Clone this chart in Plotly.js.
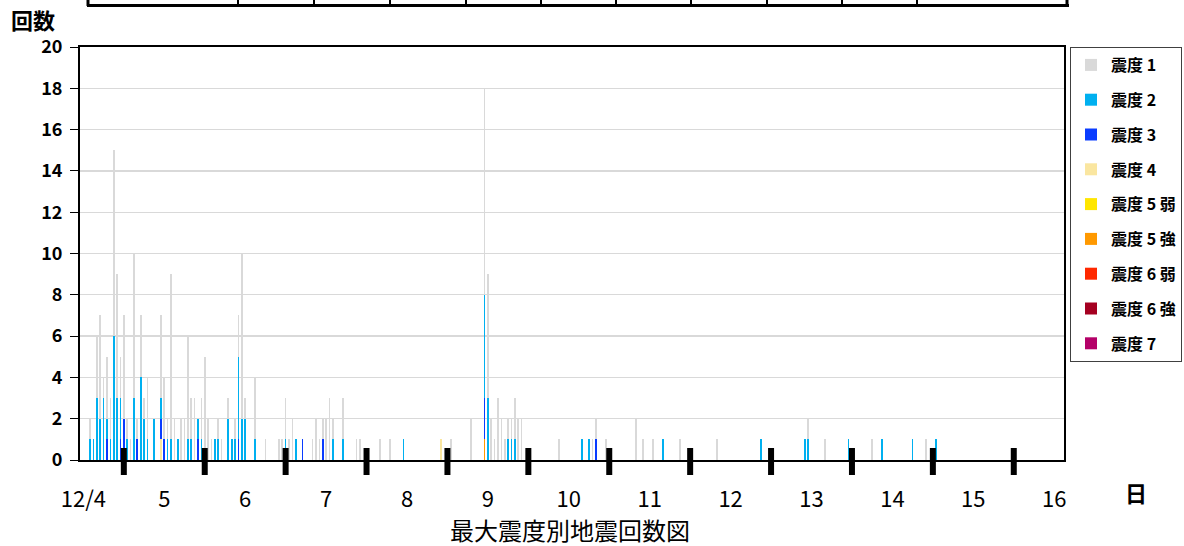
<!DOCTYPE html>
<html>
<head>
<meta charset="utf-8">
<script src="https://cdn.plot.ly/plotly-3.0.1.min.js"></script>
<style>
  html, body { margin: 0; padding: 0; background: #fff; }
  #chart { width: 1184px; height: 546px; }
</style>
</head>
<body>
<div id="chart"></div>
<script>
// Hourly earthquake counts by maximum intensity (hours counted from 2021-12-04 00:00)
const seriesNames = ['震度 1', '震度 2', '震度 3', '震度 4', '震度 5 弱', '震度 5 強', '震度 6 弱', '震度 6 強', '震度 7'];
const seriesColors = ['#d9d9d9', '#00b0f0', '#0a3cff', '#fae6a0', '#ffe600', '#ff9900', '#ff2800', '#a50021', '#b40068'];

const shindo1Hours  = [14,16,17,18,19,20,21,22,23,24,25,26,27,28,29,30,31,35,36,37,38,39,41,42,43,44,45,47,48,49,50,52,53,55,57,58,59,60,63,66,70,71,72,73,74,80,81,82,83,84,85,86,89,93,94,100,103,121,127,131,132,133,134,135,136,137,138,139,140,141,142,153,163,164,167,176,178,181,189,200,227,232,246,262];
const shindo1Counts = [1,3,5,1,3,2,9,6,2,5,1,1,7,1,3,1,3,4,3,1,8,2,2,2,5,2,3,2,5,2,1,1,1,1,1,2,8,1,3,1,1,1,2,1,2,1,2,1,1,2,3,1,2,1,1,1,1,1,2,10,6,2,1,3,2,1,1,1,2,2,2,1,1,1,1,2,1,1,1,1,1,1,1,1];

const shindo2Hours  = [14,15,16,17,18,19,20,21,22,23,25,27,29,30,31,33,35,37,38,40,43,44,46,47,51,52,55,56,57,58,59,60,63,72,75,86,89,107,131,132,138,139,140,160,162,184,213,226,227,239,249,258,265];
const shindo2Counts = [1,1,3,2,3,1,1,6,3,2,1,3,4,2,1,2,1,1,1,1,1,1,1,1,1,1,2,1,1,4,2,2,1,1,1,1,1,1,5,3,1,1,1,1,1,1,1,1,1,1,1,1,1];

const shindo3Hours  = [19,23,24,28,35,36,46,58,77,83,131,164];
const shindo3Counts = [1,1,2,1,1,1,1,1,1,1,2,1];

const shindo4Hours  = [35,118];
const shindo4Counts = [1,1];

const shindo5LowerHours  = [131];
const shindo5LowerCounts = [0];
const shindo5UpperHours  = [131];
const shindo5UpperCounts = [1];
const shindo6LowerHours  = [131];
const shindo6LowerCounts = [0];
const shindo6UpperHours  = [131];
const shindo6UpperCounts = [0];
const shindo7Hours  = [131];
const shindo7Counts = [0];

const dayLabels = ['12/4', '5', '6', '7', '8', '9', '10', '11', '12', '13', '14', '15', '16'];

const seriesHours  = [shindo1Hours, shindo2Hours, shindo3Hours, shindo4Hours, shindo5LowerHours, shindo5UpperHours, shindo6LowerHours, shindo6UpperHours, shindo7Hours];
const seriesCounts = [shindo1Counts, shindo2Counts, shindo3Counts, shindo4Counts, shindo5LowerCounts, shindo5UpperCounts, shindo6LowerCounts, shindo6UpperCounts, shindo7Counts];

const FONT = '"Noto Sans CJK JP", "Noto Sans", sans-serif';

// stack order: highest intensity at the bottom, 震度1 on top
const traces = [];
for (let k = seriesNames.length - 1; k >= 0; k--) {
  traces.push({
    type: 'bar',
    name: seriesNames[k],
    x: seriesHours[k],
    y: seriesCounts[k],
    width: 0.5,
    marker: { color: seriesColors[k], line: { width: 0 } },
    legendgroup: 'g' + k,
    legendrank: k + 1,
    showlegend: true,
    hovertemplate: seriesNames[k] + ': %{y}<extra></extra>'
  });
}

const xStart = 11, xEnd = 302.9;
const dayTicks = dayLabels.map((_, d) => 12 + 24 * d);          // noon of each day
const dayBounds = [];
for (let d = 1; d < dayLabels.length; d++) dayBounds.push(24 * d); // midnight marks

const plotL = 80, plotR = 1064, plotT = 47, plotB = 460;
const pw = plotR - plotL, ph = plotB - plotT;
const px = v => (v - plotL) / pw;
const py = v => (plotB - v) / ph;

const shapes = dayBounds.map(h => ({
  type: 'line', xref: 'x', yref: 'paper',
  x0: h, x1: h, y0: py(475), y1: py(448),
  line: { color: '#000', width: 6 }, layer: 'above'
}));

// fragment of the table above the chart
const tableCols = [88, 238, 314, 390, 466, 541, 616, 691, 767, 842, 917, 1067];
shapes.push({ type: 'line', xref: 'paper', yref: 'paper', x0: px(87), x1: px(1069), y0: py(5.5), y1: py(5.5), line: { color: '#000', width: 3 } });
tableCols.forEach((c, i) => shapes.push({
  type: 'line', xref: 'paper', yref: 'paper', x0: px(c), x1: px(c), y0: py(0), y1: py(6),
  line: { color: '#000', width: (i === 0 || i === tableCols.length - 1) ? 3 : 2 }
}));

const layout = {
  width: 1184, height: 546,
  margin: { l: plotL, r: 1184 - plotR, t: plotT, b: 546 - plotB, autoexpand: false },
  paper_bgcolor: '#fff', plot_bgcolor: '#fff',
  barmode: 'stack',
  showlegend: true,
  font: { family: FONT, color: '#000' },
  xaxis: {
    range: [xStart, xEnd],
    tickmode: 'array', tickvals: dayTicks, ticktext: dayLabels,
    ticks: '', showgrid: false, zeroline: false,
    showline: true, linecolor: '#000', linewidth: 2, mirror: true,
    tickfont: { family: FONT, size: 22, color: '#000' },
    ticklabelstandoff: 19
  },
  yaxis: {
    range: [0, 20], dtick: 2, tick0: 0,
    showgrid: true, gridcolor: '#d9d9d9', gridwidth: 1.3,
    zeroline: false,
    showline: true, linecolor: '#000', linewidth: 2, mirror: true,
    ticks: 'outside', ticklen: 8, tickcolor: '#000', tickwidth: 1,
    tickfont: { family: FONT, size: 18, color: '#000', weight: 'bold' },
    ticklabelstandoff: 4
  },
  legend: {
    x: px(1070), xanchor: 'left', y: 1, yanchor: 'top',
    bordercolor: '#404040', borderwidth: 1, bgcolor: '#fff',
    font: { family: FONT, size: 16, color: '#000', weight: 'bold' },
    traceorder: 'grouped', tracegroupgap: 11, itemwidth: 30
  },
  shapes: shapes,
  annotations: [
    { text: '回数', xref: 'paper', yref: 'paper', x: px(9), y: py(19), xanchor: 'left', yanchor: 'middle', showarrow: false,
      font: { family: FONT, size: 22, color: '#000', weight: 'bold' } },
    { text: '日', xref: 'paper', yref: 'paper', x: px(1136), y: py(492), xanchor: 'center', yanchor: 'middle', showarrow: false,
      font: { family: FONT, size: 22, color: '#000', weight: 'bold' } },
    { text: '最大震度別地震回数図', xref: 'paper', yref: 'paper', x: px(570), y: py(529), xanchor: 'center', yanchor: 'middle', showarrow: false,
      font: { family: FONT, size: 24, color: '#000' } }
  ]
};

Plotly.newPlot('chart', traces, layout, { displayModeBar: false, staticPlot: true });
</script>
</body>
</html>
